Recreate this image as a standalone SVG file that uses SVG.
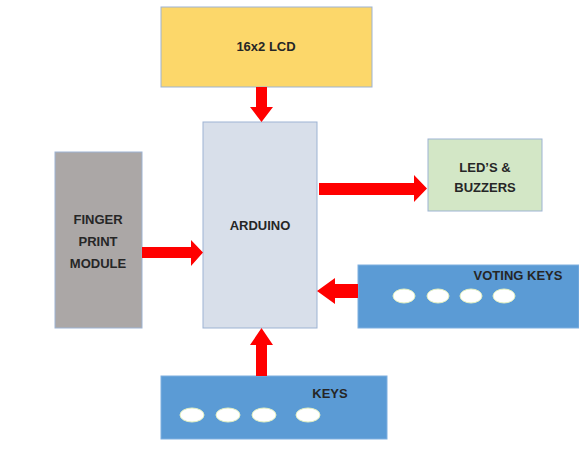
<svg xmlns="http://www.w3.org/2000/svg" width="579" height="455" viewBox="0 0 579 455">
<style>
.lbl{font-family:"Liberation Sans",Arial,sans-serif;font-size:13px;font-weight:bold;fill:#262626;text-anchor:middle}
.box{stroke:#9DB3D3;stroke-width:1}
.arrow{fill:#FF0000}
.key{fill:#FFFFFF;stroke:#E2EFC0;stroke-width:1}
</style>
<rect width="579" height="455" fill="#FFFFFF"/>
<g id="lcd">
<rect class="box" x="161" y="7" width="211" height="80" fill="#FCD76A"/>
<text class="lbl" x="266" y="51">16x2 LCD</text>
</g>
<g id="arduino">
<rect class="box" x="203" y="122" width="114" height="206" fill="#D8DFEA"/>
<text class="lbl" x="260" y="230">ARDUINO</text>
</g>
<g id="finger">
<rect class="box" x="55" y="152" width="87" height="176" fill="#ABA7A6"/>
<text class="lbl" x="98" y="224">FINGER</text>
<text class="lbl" x="98" y="246">PRINT</text>
<text class="lbl" x="98" y="268">MODULE</text>
</g>
<g id="leds">
<rect class="box" x="428" y="139" width="114" height="72" fill="#D3E7C6"/>
<text class="lbl" x="485" y="172">LED’S &amp;</text>
<text class="lbl" x="485" y="192">BUZZERS</text>
</g>
<g id="voting">
<rect x="358" y="265" width="221" height="63" fill="#5B9BD5" stroke="#7FAFE0"/>
<text class="lbl" x="518" y="280">VOTING KEYS</text>
<ellipse class="key" cx="404" cy="296" rx="11" ry="7"/>
<ellipse class="key" cx="438" cy="296" rx="11" ry="7"/>
<ellipse class="key" cx="471" cy="296" rx="11" ry="7"/>
<ellipse class="key" cx="504" cy="296" rx="11" ry="7"/>
</g>
<g id="keys">
<rect x="161" y="376" width="226" height="63" fill="#5B9BD5" stroke="#7FAFE0"/>
<text class="lbl" x="330" y="398">KEYS</text>
<ellipse class="key" cx="192" cy="415" rx="12" ry="7"/>
<ellipse class="key" cx="228" cy="415" rx="12" ry="7"/>
<ellipse class="key" cx="264" cy="415" rx="12" ry="7"/>
<ellipse class="key" cx="308" cy="415" rx="12" ry="7"/>
</g>
<g id="connectors">
<polygon class="arrow" points="256,87 267,87 267,107 273,107 261.5,122 250,107 256,107"/>
<polygon class="arrow" points="142,247 191,247 191,240 203,252.5 191,266 191,258 142,258"/>
<polygon class="arrow" points="319,183 414,183 414,175 427,188.5 414,202 414,195 319,195"/>
<polygon class="arrow" points="358,284 335,284 335,278 317,291 335,304 335,298 358,298"/>
<polygon class="arrow" points="256,376 256,345 250,345 261.5,328 273,345 267,345 267,376"/>
</g>
</svg>
